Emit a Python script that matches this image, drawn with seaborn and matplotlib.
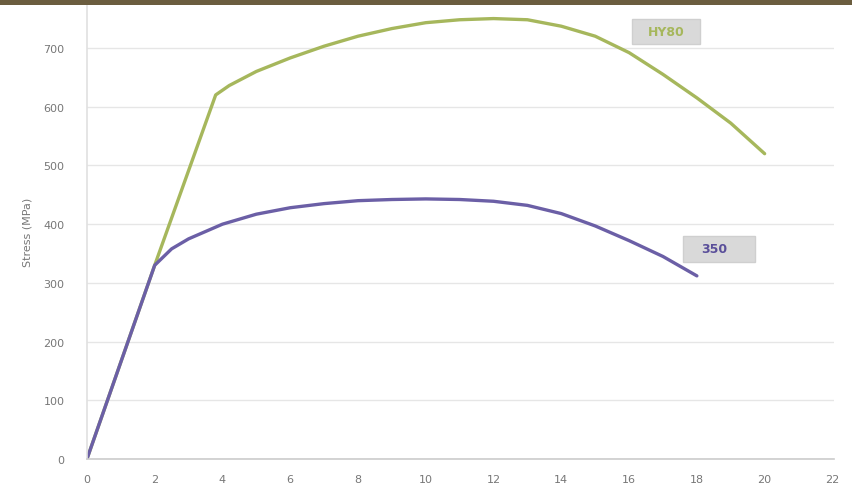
import numpy as np
import pandas as pd
import matplotlib
matplotlib.use("Agg")
import matplotlib.pyplot as plt
import seaborn as sns
from matplotlib.patches import Rectangle

hy80_strain = [0, 2, 3.8, 4.2, 5, 6, 7, 8, 9, 10, 11, 12, 13, 14, 15, 16, 17, 18, 19, 20]
hy80_stress = [0, 330, 620, 636, 660, 683, 703, 720, 733, 743, 748, 750, 748, 737, 720, 692, 655, 615, 572, 520]
s350_strain = [0, 2, 2.5, 3, 4, 5, 6, 7, 8, 9, 10, 11, 12, 13, 14, 15, 16, 17, 18]
s350_stress = [0, 330, 358, 375, 400, 417, 428, 435, 440, 442, 443, 442, 439, 432, 418, 397, 372, 345, 312]
x_ticks = [0, 2, 4, 6, 8, 10, 12, 14, 16, 18, 20, 22]
y_ticks = [0, 100, 200, 300, 400, 500, 600, 700]

df = pd.concat([
    pd.DataFrame({"strain": hy80_strain, "stress": hy80_stress, "steel": "HY80"}),
    pd.DataFrame({"strain": s350_strain, "stress": s350_stress, "steel": "350"}),
])

sns.set_style("white")
fig = plt.figure(figsize=(8.52, 4.89), dpi=100)
ax = fig.add_axes([0.102, 0.059, 0.877, 0.931])

colors = {"HY80": "#a6b75c", "350": "#6b5fa6"}
sns.lineplot(data=df, x="strain", y="stress", hue="steel", palette=colors,
             linewidth=2.4, ax=ax, legend=False, sort=False, estimator=None)

ax.set_xlim(0, 22.05)
ax.set_ylim(0, 775)
ax.set_xticks(x_ticks)
ax.set_yticks(y_ticks)
ax.set_xticklabels([str(t) for t in x_ticks], fontsize=8, color="#777777")
ax.set_yticklabels([str(t) for t in y_ticks], fontsize=8, color="#777777")
ax.tick_params(axis="x", length=0, pad=11)
ax.tick_params(axis="y", length=0, pad=16)
ax.set_xlabel("")
ax.set_ylabel("Stress (MPa)", fontsize=8, color="#777777", labelpad=8)
ax.grid(axis="y", color="#e6e6e6", linewidth=1)
ax.set_axisbelow(True)
for s in ["top", "right"]:
    ax.spines[s].set_visible(False)
ax.spines["left"].set_color("#e0e0e0")
ax.spines["bottom"].set_color("#cccccc")
ax.spines["left"].set_linewidth(1.2)
ax.spines["bottom"].set_linewidth(1.2)

ax.add_patch(Rectangle((16.1, 707), 2.0, 43, facecolor="#d9d9d9", edgecolor="#cfcfcf", zorder=3))
ax.text(17.1, 728, "HY80", fontsize=9, color="#a6b75c", fontweight="bold", ha="center", va="center", zorder=4)
ax.add_patch(Rectangle((17.6, 336), 2.13, 44, facecolor="#d9d9d9", edgecolor="#cfcfcf", zorder=3))
ax.text(18.5, 358, "350", fontsize=9, color="#5a4f9a", fontweight="bold", ha="center", va="center", zorder=4)

fig.patches.append(Rectangle((0, 1 - 6/489), 1, 6/489, transform=fig.transFigure,
                             facecolor="#6b5d3f", edgecolor="none", zorder=10))

fig.savefig("out.png", dpi=100)
